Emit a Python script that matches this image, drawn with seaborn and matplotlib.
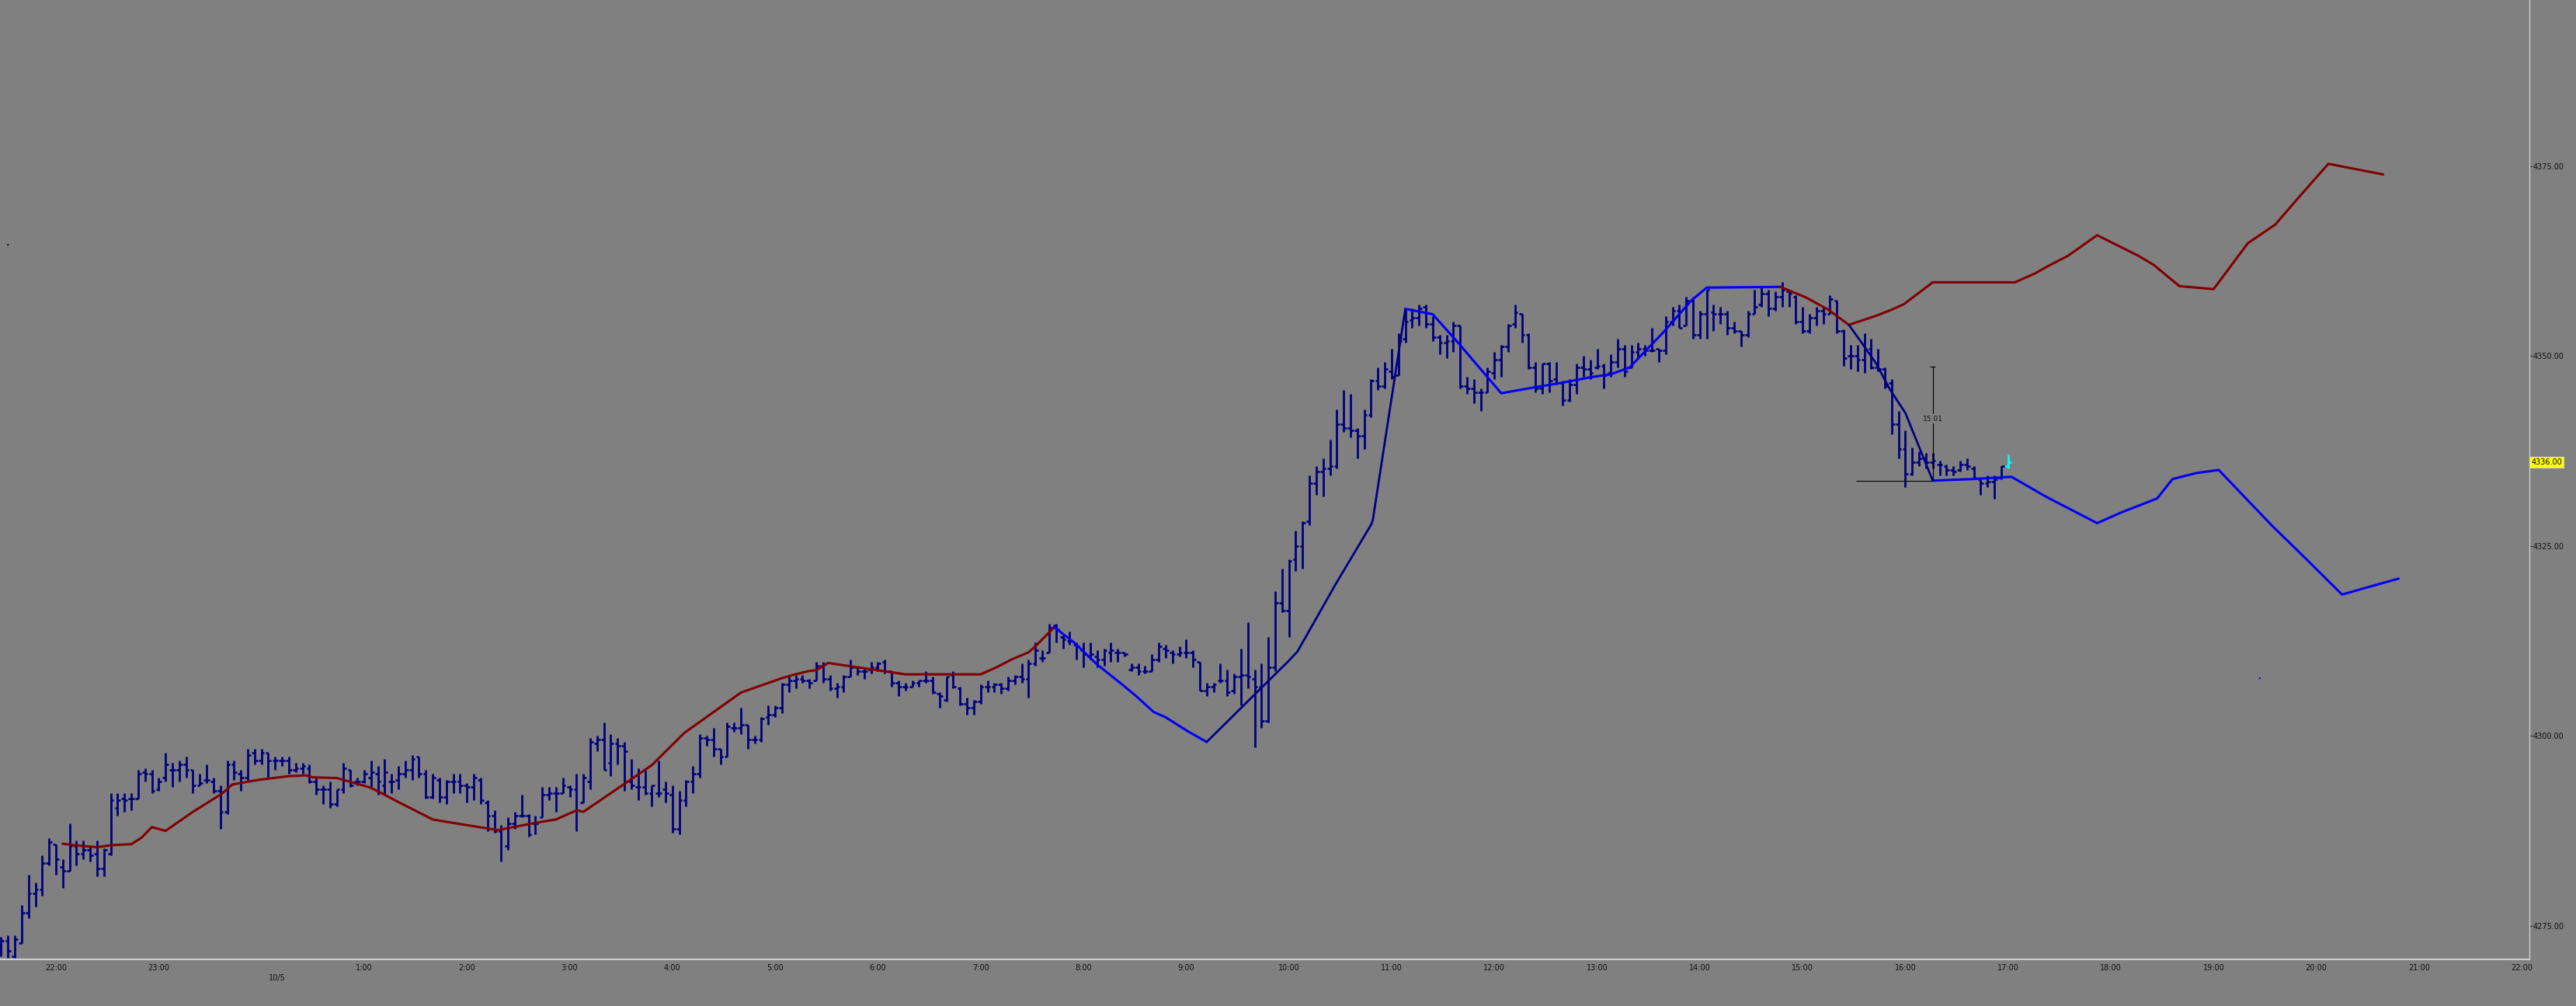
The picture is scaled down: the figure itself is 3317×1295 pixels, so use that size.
import numpy as np
import pandas as pd
import matplotlib
matplotlib.use("Agg")
import matplotlib.pyplot as plt
import matplotlib.transforms as mtransforms
import seaborn as sns

# ---------------- data ----------------
bar_start = "2021-10-04 21:28"   # first 4-minute bar
bar_freq = "4min"

opens = [4272.5, 4273.0, 4271.0, 4272.75, 4276.75, 4279.25, 4279.75, 4283.25,
    4285.75, 4282.75, 4282.25, 4285.5, 4284.5, 4285.0, 4284.5, 4282.5, 4284.5, 4290.5,
    4291.75, 4291.75, 4291.75, 4295.25, 4295.0, 4293.0, 4294.5, 4295.5, 4295.5, 4296.25,
    4295.5, 4293.5, 4294.25, 4294.0, 4292.75, 4290.0, 4296.25, 4295.0, 4294.5, 4297.75,
    4296.75, 4297.75, 4296.75, 4296.75, 4296.75, 4295.5, 4295.75, 4295.75, 4294.0, 4293.0,
    4293.0, 4291.0, 4293.0, 4295.5, 4294.0, 4294.0, 4294.5, 4295.0, 4293.5, 4294.0,
    4294.25, 4295.0, 4295.5, 4297.25, 4295.0, 4292.0, 4294.25, 4292.0, 4294.0, 4294.0,
    4293.5, 4293.25, 4294.25, 4291.25, 4289.5, 4287.5, 4285.5, 4288.5, 4289.5, 4289.5,
    4288.5, 4289.25, 4292.25, 4292.5, 4292.5, 4293.25, 4293.0, 4291.25, 4294.0, 4299.0,
    4299.5, 4296.5, 4299.0, 4298.75, 4294.0, 4293.25, 4293.25, 4292.5, 4292.5, 4293.0,
    4292.25, 4287.75, 4291.5, 4294.0, 4295.0, 4299.75, 4299.5, 4298.25, 4297.25, 4301.0,
    4301.0, 4301.5, 4299.5, 4299.5, 4302.5, 4302.75, 4303.75, 4306.75, 4307.25, 4307.5,
    4307.25, 4307.25, 4309.25, 4307.5, 4306.25, 4306.5, 4307.75, 4309.0, 4308.5, 4308.75,
    4309.0, 4309.75, 4308.5, 4307.0, 4306.5, 4306.5, 4307.0, 4307.25, 4307.25, 4305.5,
    4304.75, 4308.0, 4306.25, 4304.25, 4303.75, 4304.5, 4306.5, 4306.5, 4306.75, 4306.25,
    4307.25, 4307.75, 4307.5, 4309.5, 4310.25, 4311.0, 4314.5, 4313.0, 4312.5, 4312.0,
    4311.25, 4310.5, 4310.5, 4310.0, 4311.0, 4311.0, 4311.0, 4308.75, 4309.0, 4308.5,
    4308.5, 4310.0, 4311.5, 4311.0, 4310.75, 4311.0, 4311.0, 4309.75, 4306.0, 4306.5,
    4307.25, 4307.25, 4306.0, 4307.75, 4308.0, 4307.5, 4306.5, 4302.0, 4309.0, 4317.5,
    4316.5, 4323.25, 4325.0, 4328.25, 4333.25, 4334.75, 4335.25, 4335.5, 4341.0, 4340.5,
    4340.25, 4339.5, 4342.25, 4346.75, 4346.0, 4348.0, 4347.5, 4352.25, 4354.75, 4355.0,
    4356.5, 4354.25, 4352.5, 4351.75, 4352.0, 4354.0, 4346.0, 4345.75, 4345.25, 4345.25,
    4347.75, 4349.5, 4351.25, 4354.25, 4355.5, 4352.75, 4348.5, 4345.75, 4349.0, 4347.0,
    4346.5, 4344.25, 4346.25, 4348.5, 4348.25, 4348.5, 4348.75, 4347.75, 4349.25, 4351.0,
    4348.5, 4350.5, 4351.0, 4350.75, 4351.0, 4350.75, 4354.5, 4356.0, 4354.0, 4357.25,
    4352.75, 4355.5, 4355.75, 4355.5, 4355.5, 4353.75, 4353.25, 4352.75, 4355.5, 4356.75,
    4358.25, 4356.25, 4357.75, 4358.5, 4357.75, 4354.5, 4353.25, 4355.0, 4356.0, 4355.5,
    4357.25, 4353.25, 4350.0, 4350.0, 4349.5, 4351.0, 4348.5, 4348.25, 4346.5, 4341.0,
    4337.75, 4334.5, 4336.0, 4336.5, 4336.0, 4335.75, 4335.5, 4335.0, 4335.0, 4335.75,
    4335.25, 4333.75, 4333.25, 4333.5, 4334.0, 4335.5]

highs = [4273.5, 4273.75, 4273.75, 4277.75, 4281.75, 4280.75, 4284.25, 4286.5,
    4285.75, 4283.75, 4288.5, 4286.25, 4286.25, 4285.5, 4286.25, 4285.25, 4292.5, 4292.5,
    4292.5, 4292.5, 4295.5, 4295.75, 4295.5, 4294.5, 4297.75, 4296.5, 4296.75, 4297.25,
    4295.5, 4295.0, 4296.25, 4294.5, 4293.5, 4296.75, 4296.75, 4295.5, 4298.25, 4298.25,
    4298.25, 4297.75, 4297.25, 4297.25, 4297.25, 4296.5, 4296.5, 4296.25, 4294.5, 4293.5,
    4294.0, 4293.0, 4296.5, 4295.5, 4294.5, 4295.5, 4296.75, 4296.0, 4297.0, 4295.0,
    4296.0, 4296.75, 4297.5, 4297.25, 4295.5, 4295.0, 4294.5, 4294.25, 4295.0, 4295.0,
    4293.75, 4295.0, 4294.5, 4291.5, 4290.25, 4288.25, 4289.25, 4290.0, 4292.25, 4289.75,
    4289.5, 4293.25, 4293.25, 4293.25, 4294.5, 4293.5, 4295.0, 4295.0, 4299.75, 4300.0,
    4301.75, 4300.25, 4299.75, 4299.25, 4297.0, 4295.75, 4295.5, 4293.5, 4296.75, 4294.0,
    4293.5, 4292.75, 4294.25, 4296.0, 4300.25, 4300.0, 4301.0, 4298.25, 4301.75, 4301.75,
    4303.75, 4301.5, 4300.0, 4302.5, 4304.0, 4304.0, 4307.0, 4307.75, 4308.0, 4308.0,
    4307.5, 4309.75, 4309.75, 4308.0, 4307.0, 4308.0, 4310.0, 4309.0, 4309.0, 4309.75,
    4309.75, 4310.0, 4308.5, 4307.25, 4307.0, 4307.25, 4307.25, 4308.5, 4307.75, 4305.75,
    4307.75, 4308.5, 4306.5, 4305.0, 4304.75, 4306.75, 4307.25, 4307.0, 4307.0, 4307.75,
    4308.0, 4309.5, 4310.0, 4312.25, 4311.25, 4314.75, 4314.75, 4313.25, 4313.75, 4312.25,
    4312.25, 4312.25, 4311.25, 4311.5, 4312.25, 4311.5, 4311.0, 4309.5, 4309.5, 4309.25,
    4310.75, 4312.25, 4312.0, 4311.25, 4311.75, 4312.75, 4311.25, 4309.75, 4307.0, 4307.0,
    4309.5, 4308.75, 4308.25, 4311.5, 4315.0, 4308.75, 4309.5, 4313.0, 4319.0, 4322.0,
    4323.25, 4327.0, 4328.25, 4334.25, 4335.5, 4336.5, 4339.0, 4343.0, 4345.5, 4345.0,
    4340.5, 4343.0, 4347.0, 4348.5, 4349.25, 4351.0, 4353.0, 4356.25, 4356.25, 4356.75,
    4356.75, 4355.25, 4352.75, 4352.75, 4354.5, 4354.0, 4347.25, 4347.0, 4345.75, 4348.5,
    4350.5, 4351.5, 4354.25, 4356.75, 4355.5, 4353.0, 4349.25, 4349.0, 4349.25, 4349.25,
    4346.75, 4347.0, 4349.0, 4350.0, 4349.5, 4351.0, 4349.0, 4350.25, 4352.25, 4351.5,
    4351.5, 4351.75, 4351.5, 4353.75, 4351.0, 4355.25, 4356.5, 4356.75, 4357.75, 4357.75,
    4356.0, 4358.75, 4356.75, 4356.5, 4356.0, 4354.5, 4353.25, 4356.0, 4358.75, 4359.0,
    4358.75, 4358.5, 4359.75, 4358.75, 4358.0, 4356.5, 4355.5, 4356.5, 4356.5, 4358.0,
    4357.25, 4353.5, 4351.5, 4351.5, 4353.0, 4352.25, 4351.0, 4348.5, 4347.0, 4342.75,
    4340.25, 4338.0, 4337.5, 4337.25, 4337.25, 4336.25, 4335.75, 4335.5, 4336.25, 4336.5,
    4335.5, 4333.75, 4334.25, 4334.25, 4335.5, 4337.0]

lows = [4271.0, 4270.75, 4270.75, 4272.75, 4276.0, 4277.5, 4279.0, 4283.0,
    4281.75, 4280.0, 4282.25, 4283.0, 4283.75, 4283.5, 4281.5, 4281.5, 4284.25, 4289.5,
    4290.0, 4290.25, 4291.75, 4294.0, 4292.5, 4292.75, 4294.0, 4293.25, 4294.0, 4294.5,
    4292.5, 4293.5, 4293.75, 4292.5, 4287.75, 4289.75, 4294.25, 4292.75, 4294.0, 4296.25,
    4296.25, 4294.5, 4295.5, 4296.0, 4295.0, 4295.25, 4295.0, 4293.75, 4292.25, 4291.0,
    4290.5, 4290.75, 4292.5, 4293.25, 4293.5, 4293.75, 4293.25, 4292.25, 4292.25, 4292.5,
    4293.0, 4294.5, 4294.25, 4294.5, 4291.75, 4291.75, 4291.25, 4291.0, 4292.5, 4292.5,
    4291.25, 4291.5, 4291.0, 4287.5, 4287.25, 4283.5, 4285.0, 4287.75, 4289.25, 4286.75,
    4287.0, 4289.25, 4291.5, 4290.0, 4292.5, 4292.0, 4287.5, 4291.25, 4293.0, 4298.0,
    4295.5, 4294.75, 4296.25, 4292.75, 4293.0, 4291.5, 4292.25, 4290.75, 4292.0, 4291.25,
    4287.25, 4287.0, 4290.75, 4292.5, 4294.5, 4298.75, 4297.25, 4296.25, 4297.25, 4300.5,
    4300.25, 4298.25, 4299.0, 4299.25, 4301.5, 4302.5, 4303.0, 4305.75, 4306.25, 4307.0,
    4306.25, 4307.25, 4307.0, 4306.0, 4305.0, 4305.75, 4307.75, 4308.0, 4307.5, 4308.25,
    4308.5, 4308.25, 4306.5, 4305.25, 4306.0, 4306.5, 4306.5, 4307.0, 4305.5, 4303.75,
    4304.5, 4306.25, 4304.0, 4302.75, 4302.75, 4304.25, 4305.75, 4305.75, 4305.5, 4306.0,
    4306.75, 4307.0, 4305.0, 4309.25, 4309.75, 4311.0, 4312.25, 4311.5, 4312.0, 4310.0,
    4309.0, 4310.0, 4309.0, 4309.25, 4309.75, 4309.75, 4310.5, 4308.5, 4308.0, 4308.25,
    4308.5, 4309.75, 4310.25, 4309.5, 4310.5, 4310.25, 4309.0, 4306.0, 4305.25, 4305.75,
    4307.0, 4305.25, 4305.5, 4304.0, 4306.25, 4298.5, 4301.0, 4301.75, 4308.5, 4316.25,
    4313.0, 4321.75, 4322.0, 4327.75, 4331.75, 4331.5, 4334.25, 4335.25, 4340.0, 4339.25,
    4336.5, 4337.75, 4342.0, 4345.5, 4345.75, 4347.0, 4347.5, 4351.75, 4353.75, 4354.0,
    4353.75, 4352.0, 4350.25, 4349.75, 4350.5, 4345.75, 4345.0, 4343.75, 4342.75, 4345.25,
    4347.0, 4347.25, 4350.5, 4353.75, 4351.75, 4348.25, 4345.25, 4345.0, 4345.25, 4346.25,
    4343.5, 4344.0, 4345.0, 4347.25, 4347.0, 4348.25, 4345.75, 4347.25, 4348.5, 4347.25,
    4348.5, 4349.75, 4350.0, 4350.5, 4349.25, 4350.25, 4354.0, 4353.75, 4354.0, 4352.25,
    4352.25, 4352.25, 4353.25, 4354.25, 4352.75, 4353.0, 4351.25, 4352.5, 4355.5, 4356.5,
    4355.25, 4356.0, 4356.5, 4356.5, 4354.25, 4353.0, 4353.0, 4354.0, 4354.25, 4355.5,
    4353.0, 4348.75, 4348.25, 4348.0, 4347.75, 4348.25, 4348.0, 4345.75, 4339.75, 4336.5,
    4332.75, 4334.25, 4335.5, 4335.25, 4335.25, 4334.25, 4334.25, 4334.25, 4334.75, 4335.0,
    4333.75, 4331.75, 4332.75, 4331.25, 4333.75, 4335.25]

closes = [4273.0, 4271.75, 4273.25, 4276.75, 4279.25, 4279.75, 4283.25, 4286.0,
    4283.75, 4282.25, 4285.5, 4284.5, 4285.0, 4284.25, 4282.5, 4285.0, 4291.5, 4291.5,
    4291.5, 4291.75, 4295.0, 4295.0, 4292.75, 4294.0, 4296.25, 4295.5, 4296.25, 4295.5,
    4293.5, 4293.75, 4294.25, 4292.75, 4290.0, 4296.25, 4295.25, 4294.5, 4297.5, 4296.75,
    4297.75, 4296.75, 4296.75, 4296.75, 4295.5, 4295.75, 4296.0, 4294.0, 4293.0, 4293.0,
    4291.0, 4293.0, 4295.75, 4293.5, 4294.0, 4295.0, 4295.25, 4294.0, 4295.25, 4294.0,
    4295.0, 4295.5, 4297.0, 4295.0, 4292.0, 4294.5, 4292.0, 4294.0, 4294.0, 4293.5,
    4293.25, 4294.5, 4291.5, 4289.5, 4287.5, 4287.75, 4288.5, 4289.5, 4289.5, 4287.0,
    4288.5, 4292.25, 4292.5, 4292.5, 4293.5, 4293.0, 4290.25, 4294.5, 4299.25, 4299.5,
    4295.5, 4299.0, 4298.75, 4298.0, 4293.5, 4293.25, 4292.5, 4293.5, 4292.5, 4292.5,
    4287.75, 4291.5, 4294.0, 4295.0, 4299.75, 4299.5, 4298.25, 4297.25, 4301.25, 4301.0,
    4301.5, 4299.5, 4299.5, 4302.25, 4302.75, 4303.75, 4306.75, 4307.25, 4307.5, 4307.25,
    4307.0, 4309.25, 4307.5, 4306.25, 4306.5, 4307.75, 4309.0, 4308.5, 4308.5, 4309.0,
    4309.5, 4308.5, 4307.0, 4306.5, 4306.5, 4307.0, 4307.25, 4307.25, 4305.75, 4305.25,
    4307.75, 4306.5, 4304.25, 4303.75, 4304.5, 4306.5, 4306.5, 4306.75, 4306.25, 4307.25,
    4307.75, 4307.5, 4309.5, 4311.25, 4310.25, 4314.25, 4314.0, 4312.75, 4312.5, 4311.75,
    4310.75, 4310.75, 4310.0, 4311.25, 4311.25, 4311.0, 4310.75, 4309.0, 4308.5, 4308.5,
    4310.0, 4311.75, 4311.25, 4310.75, 4311.0, 4311.0, 4310.0, 4306.0, 4306.5, 4306.75,
    4307.25, 4305.75, 4307.75, 4308.0, 4307.75, 4306.5, 4302.0, 4309.0, 4317.5, 4316.5,
    4323.0, 4325.0, 4328.0, 4333.25, 4334.75, 4335.25, 4335.5, 4341.0, 4340.5, 4340.25,
    4339.5, 4342.25, 4346.75, 4346.0, 4348.25, 4347.25, 4352.0, 4354.5, 4355.0, 4356.25,
    4354.25, 4352.5, 4351.75, 4352.0, 4354.0, 4346.0, 4345.75, 4345.25, 4345.25, 4348.0,
    4349.5, 4351.25, 4354.0, 4355.75, 4352.75, 4348.5, 4345.75, 4349.0, 4346.75, 4346.5,
    4344.25, 4346.25, 4348.5, 4348.25, 4347.75, 4348.75, 4347.5, 4349.25, 4351.0, 4348.0,
    4350.5, 4351.0, 4350.75, 4350.75, 4350.75, 4354.5, 4356.0, 4353.75, 4357.25, 4352.75,
    4355.5, 4358.75, 4355.5, 4355.5, 4353.75, 4353.25, 4352.75, 4355.5, 4356.5, 4358.25,
    4356.25, 4357.75, 4358.75, 4358.25, 4354.5, 4353.25, 4355.0, 4356.0, 4355.5, 4357.5,
    4353.25, 4349.75, 4350.0, 4349.5, 4351.0, 4348.5, 4348.25, 4346.0, 4341.0, 4337.75,
    4334.5, 4336.0, 4336.5, 4336.0, 4336.25, 4335.75, 4335.0, 4334.75, 4335.75, 4335.5,
    4334.0, 4333.25, 4333.5, 4333.75, 4335.5, 4336.0]

# indicator line (red = upper part, blue = lower part, navy = transition legs)
red1_times = ["22:04", "22:11", "22:24", "22:32", "22:44", "22:50", "22:56", "23:04", "23:20",
              "23:37", "23:43", "23:58", "00:16", "00:26", "00:30", "00:44", "01:03", "01:09",
              "01:19", "01:40", "01:49", "02:18", "02:40", "02:52", "03:04", "03:08", "03:48",
              "04:07", "04:40", "05:04", "05:10", "05:19", "05:24", "05:31", "05:43", "06:04",
              "06:16", "07:00", "07:09", "07:18", "07:28", "07:32", "07:43"]
red1_vals = [4285.8, 4285.6, 4285.35, 4285.6, 4285.75, 4286.6, 4288.0, 4287.5, 4290.0,
             4292.4, 4293.6, 4294.2, 4294.7, 4294.8, 4294.55, 4294.45, 4293.25, 4292.6,
             4291.4, 4289.0, 4288.65, 4287.6, 4288.55, 4289.0, 4290.2, 4290.0, 4296.15,
             4300.4, 4305.7, 4307.6, 4308.0, 4308.5, 4308.65, 4309.6, 4309.2, 4308.5,
             4308.1, 4308.1, 4309.0, 4310.05, 4311.0, 4311.8, 4314.3]
blue1_times = ["07:43", "07:55", "08:08", "08:23", "08:31", "08:41", "08:48", "09:01", "09:12"]
blue1_vals = [4314.3, 4312.2, 4309.4, 4306.7, 4305.2, 4303.15, 4302.45, 4300.6, 4299.2]
navy1_times = ["09:12", "10:00", "10:05", "10:27", "10:48", "10:49", "11:08"]
navy1_vals = [4299.2, 4309.9, 4311.1, 4319.85, 4327.8, 4328.4, 4356.2]
blue2_times = ["11:08", "11:24", "11:39", "12:04", "12:24", "12:40", "12:56", "13:08", "13:19",
               "13:39", "13:55", "14:04", "14:47"]
blue2_vals = [4356.2, 4355.5, 4351.7, 4345.1, 4345.9, 4346.5, 4347.2, 4347.6, 4348.5,
              4353.2, 4357.3, 4359.0, 4359.1]
red2_times = ["14:47", "15:02", "15:15", "15:27", "15:43", "15:52", "15:59", "16:16", "17:04",
              "17:16", "17:23", "17:35", "17:52", "18:16", "18:25", "18:40", "19:00", "19:20",
              "19:36", "19:50", "20:07", "20:39"]
red2_vals = [4359.1, 4357.7, 4356.1, 4354.1, 4355.3, 4356.1, 4356.8, 4359.7, 4359.7,
             4360.9, 4361.8, 4363.2, 4365.9, 4363.2, 4362.0, 4359.2, 4358.8, 4364.85,
             4367.3, 4370.95, 4375.3, 4373.9]
navy2_times = ["15:27", "15:34", "15:43", "15:51", "16:00", "16:16"]
navy2_vals = [4354.1, 4351.9, 4349.0, 4345.6, 4342.5, 4333.6]
blue3_times = ["16:16", "16:39", "17:02", "17:22", "17:52", "18:06", "18:27", "18:36", "18:50",
               "19:03", "19:34", "19:54", "20:15", "20:29", "20:48"]
blue3_vals = [4333.6, 4333.8, 4334.1, 4331.5, 4328.0, 4329.4, 4331.25, 4333.8, 4334.6,
              4335.0, 4327.7, 4323.3, 4318.6, 4319.5, 4320.7]

# measuring tool
measure_time = "16:16"
measure_start = "15:31"
measure_low = 4333.54
measure_high = 4348.55
measure_text = "15.01"

# stray marks
dot_times = ["21:32", "19:27"]
dot_vals = [4364.65, 4307.6]

last_price = 4336.00
y_ticks = [4275, 4300, 4325, 4350, 4375]
date_label = "10/5"

# ---------------- helpers ----------------
def ts(hhmm):
    h = int(hhmm.split(":")[0])
    day = "2021-10-04" if h >= 21 else "2021-10-05"
    return pd.Timestamp(f"{day} {hhmm}")

BG = "#808080"
BAR = "#00007f"
RED = "#800000"
BLUE = "#0000f5"
NAVY = "#000085"

sns.set_style("white")
plt.rcParams["font.family"] = ["DejaVu Sans"]

fig = plt.figure(figsize=(33.17, 12.95), dpi=100, facecolor=BG)
ax = fig.add_axes([0, 60 / 1295, 3257 / 3317, 1235 / 1295])
ax.set_facecolor(BG)

# ---------------- OHLC bars ----------------
times = pd.date_range(bar_start, periods=len(opens), freq=bar_freq)
colors = [BAR] * (len(times) - 1) + ["#00ffff"]
dt = pd.Timedelta(minutes=1.7)
ax.vlines(times, lows, highs, colors=colors, linewidth=2.0, zorder=2)
ax.hlines(opens, times - dt, times, colors=colors, linewidth=1.9, zorder=2)
ax.hlines(closes, times, times + dt, colors=colors, linewidth=1.9, zorder=2)

# ---------------- indicator lines ----------------
segments = [
    (red1_times, red1_vals, RED, 2.2),
    (blue1_times, blue1_vals, BLUE, 2.2),
    (navy1_times, navy1_vals, NAVY, 2.0),
    (blue2_times, blue2_vals, BLUE, 2.2),
    (red2_times, red2_vals, RED, 2.2),
    (navy2_times, navy2_vals, NAVY, 2.0),
    (blue3_times, blue3_vals, BLUE, 2.2),
]
for t_list, v_list, col, lw in segments:
    df = pd.DataFrame({"t": [ts(t) for t in t_list], "v": v_list})
    sns.lineplot(data=df, x="t", y="v", ax=ax, color=col, linewidth=lw,
                 estimator=None, sort=False, legend=False, zorder=3)

# stray marks
ax.scatter([ts(t) for t in dot_times], dot_vals, s=3, c=["#101010", "#0000ff"],
           zorder=4, linewidths=0)

# ---------------- measuring tool ----------------
mt = ts(measure_time)
ax.vlines(mt, measure_low, measure_high, color="black", linewidth=0.8, zorder=4)
ax.hlines(measure_low, ts(measure_start), mt, color="black", linewidth=0.8, zorder=4)
cap = pd.Timedelta(minutes=1.6)
ax.hlines(measure_high, mt - cap, mt + cap, color="black", linewidth=0.8, zorder=4)
ax.text(mt, (measure_low + measure_high) / 2 + 0.7, measure_text, ha="center", va="center",
        fontsize=6.5, color="#111111", zorder=5,
        bbox=dict(boxstyle="square,pad=0.15", fc=BG, ec="none"))

# ---------------- axes ----------------
ax.set_xlim(pd.Timestamp("2021-10-04 21:27:20"), pd.Timestamp("2021-10-05 22:04:25"))
ax.set_ylim(4270.58, 4396.86)
ax.set_xlabel("")
ax.set_ylabel("")

hours = [h for h in pd.date_range("2021-10-04 22:00", "2021-10-05 22:00", freq="h")
         if h.hour != 0]
ax.set_xticks(hours)
ax.set_xticklabels([f"{h.hour}:00" for h in hours])
ax.tick_params(axis="x", length=3, width=1.0, color="#d0d0d0", labelsize=7,
               labelcolor="#111111", pad=1, direction="out")

ax.yaxis.tick_right()
ax.set_yticks(y_ticks)
ax.set_yticklabels([f"{v:.2f}" for v in y_ticks])
ax.tick_params(axis="y", length=3, width=0.8, color="#303030", labelsize=7,
               labelcolor="#111111", pad=0.5, direction="out", left=False, right=True)

for s in ["top", "left"]:
    ax.spines[s].set_visible(False)
ax.spines["bottom"].set_color("#cfcfcf")
ax.spines["bottom"].set_linewidth(1.5)
ax.spines["right"].set_color("#cfcfcf")
ax.spines["right"].set_linewidth(1.0)
ax.grid(False)

# date label under the axis
trans_x = mtransforms.blended_transform_factory(ax.transData, ax.transAxes)
ax.text(ts("00:09"), -24 / 1235, date_label, transform=trans_x, ha="center", va="center",
        fontsize=7, color="#111111", clip_on=False)

# last price flag
trans_y = mtransforms.blended_transform_factory(ax.transAxes, ax.transData)
ax.text(1.0008, last_price, f"{last_price:.2f}", transform=trans_y, ha="left", va="center",
        fontsize=7, color="#000000", clip_on=False, zorder=6,
        bbox=dict(boxstyle="square,pad=0.22", fc="#ffff00", ec="#d9d9a0", lw=0.8))

fig.savefig("out.png", dpi=100, facecolor=BG)
